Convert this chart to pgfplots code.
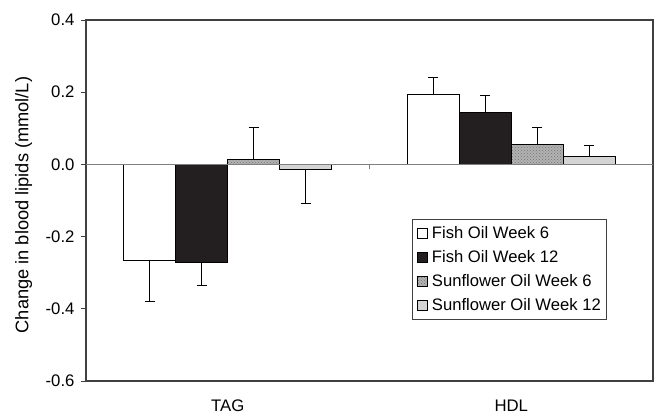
\documentclass[border=0pt]{standalone}
\usepackage{pgfplots}
\pgfplotsset{compat=1.18}
\usepackage{fontspec}
\setmainfont{Liberation Sans}
\usetikzlibrary{patterns}
\definecolor{axgray}{HTML}{404040}
\definecolor{darkbar}{HTML}{231F20}
\definecolor{lightbar}{HTML}{D4D4D4}
\begin{document}
\begin{tikzpicture}
\begin{axis}[
  scale only axis,
  width=567bp, height=361bp,
  xmin=-0.5, xmax=1.5,
  ymin=-0.6, ymax=0.4,
  ytick={-0.6,-0.4,...,0.4},
  yticklabel style={xshift=-3bp, /pgf/number format/.cd, fixed, fixed zerofill, precision=1, /tikz/.cd},
  /pgf/number format/assume math mode=true,
  xtick={0,1}, xticklabels={TAG,HDL},
  x tick style={draw=none},
  y tick style={axgray, line width=0.8bp},
  tick align=outside,
  major tick length=5bp,
  ytick pos=left,
  axis line style={axgray, line width=1.2bp},
  font=\fontsize{16.8}{19}\selectfont,
  xticklabel style={yshift=-10bp},
  ylabel={Change in blood lipids (mmol/L)},
  ylabel style={at={(axis description cs:-0.110,0.4875)}, anchor=center, font=\fontsize{18.3}{20}\selectfont},
  ybar=0pt,
  bar width=0.183,
  legend style={at={(rel axis cs:0.575,0.449)}, anchor=north west,
    draw=axgray, line width=1bp, font=\fontsize{16.7}{19}\selectfont,
    row sep=6.6bp, inner xsep=4bp, inner ysep=5bp,
    /tikz/every odd column/.append style={column sep=2.5bp}},
  legend cell align=left,
  legend image code/.code={\draw[#1, line width=0.9bp] (2bp,-5bp) rectangle (12bp,5bp);},
  error bars/y dir=both,
  error bars/y explicit,
  error bars/error bar style={black, line width=1.1bp},
  error bars/error mark options={rotate=90, mark size=5bp, black, line width=1.1bp},
]
\addplot[draw=black, fill=white, line width=1bp]
  coordinates {(0,-0.267) += (0,0) -= (0,0.114) (1,0.194) += (0,0.046) -= (0,0)};
\addlegendentry{Fish Oil Week 6}
\addplot[draw=black, fill=darkbar, line width=1bp]
  coordinates {(0,-0.271) += (0,0) -= (0,0.065) (1,0.144) += (0,0.046) -= (0,0)};
\addlegendentry{Fish Oil Week 12}
\addplot[draw=black, fill=black!30, line width=1bp, postaction={pattern=crosshatch dots, pattern color=black!55}]
  coordinates {(0,0.014) += (0,0.088) -= (0,0) (1,0.056) += (0,0.046) -= (0,0)};
\addlegendentry{Sunflower Oil Week 6}
\addplot[draw=black, fill=lightbar, line width=1bp]
  coordinates {(0,-0.013) += (0,0) -= (0,0.096) (1,0.021) += (0,0.031) -= (0,0)};
\addlegendentry{Sunflower Oil Week 12}
\draw[gray, line width=0.8bp] (axis cs:-0.5,0) -- (axis cs:1.5,0);
\draw[gray, line width=0.8bp] ([yshift=-5bp]axis cs:0.5,0) -- (axis cs:0.5,0);
\coordinate (SW) at (rel axis cs:0,0);
\coordinate (NE) at (rel axis cs:1,1);
\end{axis}
\pgfresetboundingbox
\path (SW) ++(-86bp,-37bp) coordinate (BL);
\path (NE) ++(5bp,20bp) coordinate (TR);
\path (BL) rectangle (TR);
\end{tikzpicture}
\end{document}
